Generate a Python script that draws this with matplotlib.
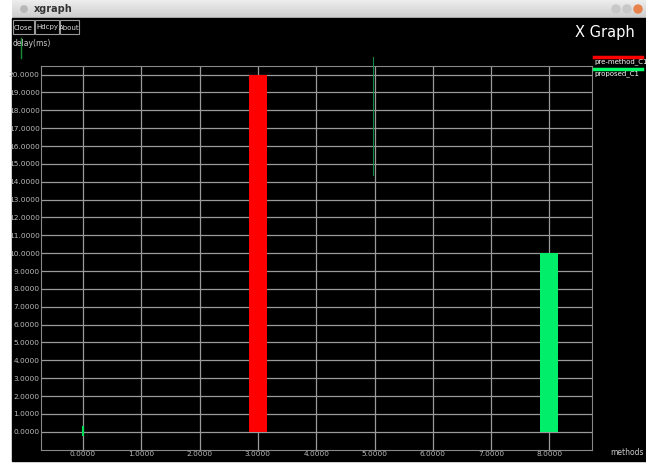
import numpy as np
import matplotlib.pyplot as plt
from matplotlib.patches import Rectangle

# data
pre_x = [3.0]
pre_y = [20.0]
prop_x = [8.0]
prop_y = [10.0]
prop_start = [0.0]      # small green mark at origin
stray_x = [4.97, 4.97]  # thin dark green trace
stray_y = [14.4, 21.0]
x_ticks = list(range(0, 9))
y_ticks = list(range(0, 21))

W, H = 646, 465
fig = plt.figure(figsize=(W / 100, H / 100), dpi=100)
fig.patch.set_facecolor("white")

# window chrome (pixel coords)
bg = fig.add_axes([0, 0, 1, 1])
bg.set_xlim(0, W)
bg.set_ylim(H, 0)
bg.axis("off")
bg.add_patch(Rectangle((12, 18), W - 12, 443, color="black"))
grad = np.linspace(0.93, 0.80, 20).reshape(-1, 1)
bg.imshow(grad, cmap="gray", vmin=0, vmax=1, extent=(12, W, 18, 0), aspect="auto")
bg.set_xlim(0, W)
bg.set_ylim(H, 0)
bg.add_patch(plt.Circle((24, 9), 3.2, color="#b8b8b8"))
bg.text(34, 9.5, "xgraph", fontsize=7, fontweight="bold", color="#333333", va="center")
for cx, c in [(616, "#c8c8c8"), (627, "#c8c8c8"), (638, "#e8824a")]:
    bg.add_patch(plt.Circle((cx, 9), 4, color=c))

for x0, w, lab in [(13, 21, "Close"), (35, 24, "Hdcpy"), (60, 19, "About")]:
    bg.add_patch(Rectangle((x0, 20), w, 14, fill=False, ec="#999999", lw=0.8))
    bg.text(x0 + w / 2, 27.5, lab, fontsize=5, color="#dddddd", ha="center", va="center")
bg.text(13, 44, "delay(ms)", fontsize=5.5, color="#cccccc", va="center")
bg.plot([21, 21], [38, 58], color="#1a8a3a", lw=1)
bg.text(605, 33, "X Graph", fontsize=10.5, color="white", ha="center", va="center",
        family="Liberation Sans Narrow")
bg.text(644, 452, "methods", fontsize=5.5, color="#cccccc", ha="right", va="center")

# legend
bg.plot([594, 642], [57, 57], color="#ff0000", lw=2.5)
bg.text(594, 62, "pre-method_C1", fontsize=5, color="white", va="center",
        family="Liberation Sans Narrow")
bg.plot([594, 642], [69, 69], color="#00ff66", lw=2.5)
bg.text(594, 74, "proposed_C1", fontsize=5, color="white", va="center",
        family="Liberation Sans Narrow")

# plot area
left, right, top, bottom = 41, 592, 66, 450
ax = fig.add_axes([left / W, 1 - bottom / H, (right - left) / W, (bottom - top) / H])
ax.set_facecolor("black")
ax.set_xlim(-0.72, 8.73)
ax.set_ylim(-1.02, 20.48)
for s in ax.spines.values():
    s.set_color("#888888")
    s.set_linewidth(0.8)
ax.set_xticks(x_ticks)
ax.set_yticks(y_ticks)
ax.set_xticklabels([f"{v:.4f}" for v in x_ticks], fontsize=5.3, color="#bbbbbb",
                   family="Liberation Sans Narrow")
ax.set_yticklabels([f"{v:.4f}" for v in y_ticks], fontsize=5.3, color="#bbbbbb",
                   family="Liberation Sans Narrow")
ax.tick_params(length=0, pad=1)
ax.grid(True, color="#9a9a9a", lw=0.9)
ax.set_axisbelow(True)

ax.bar(pre_x, pre_y, width=0.31, color="#ff0000", zorder=3)
ax.bar(prop_x, prop_y, width=0.31, color="#00ee6a", zorder=3)
ax.plot([0, 0], [prop_start[0] - 0.2, prop_start[0] + 0.25], color="#00dd55", lw=1.5, zorder=3)
ax.plot(stray_x, stray_y, color="#0f8a45", lw=0.8, zorder=3, clip_on=False)

fig.savefig("out.png", dpi=100, facecolor=fig.get_facecolor())
